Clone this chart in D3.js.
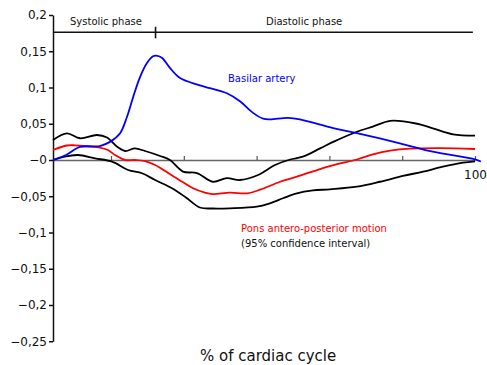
<!DOCTYPE html>
<html>
<head>
<meta charset="utf-8">
<script src="https://cdn.jsdelivr.net/npm/d3@7"></script>
<style>
  html, body { margin: 0; padding: 0; background: #fff; }
  svg { display: block; font-family: "DejaVu Sans", Verdana, sans-serif; }
</style>
</head>
<body>
<svg id="chart" width="487" height="365"></svg>
<script>
// Percent of cardiac cycle (x) and displacement / flow values (y)
const basilarX = [0, 3.1, 6.4, 11.1, 13.5, 15.9, 17.5, 19.0, 20.6, 22.3, 23.7, 24.4, 25.8, 27.7, 30.1, 34.8, 41.2, 44.3, 47.4, 49.8, 51.4, 55.7, 58.5, 66.4, 72.0, 82.2, 90.0, 100, 101.4];
const basilarY = [0, 0.0069, 0.018, 0.0193, 0.025, 0.037, 0.059, 0.087, 0.114, 0.134, 0.143, 0.144, 0.141, 0.127, 0.113, 0.103, 0.092, 0.081, 0.065, 0.057, 0.056, 0.058, 0.056, 0.044, 0.037, 0.023, 0.0114, 0.001, -0.002];

const ponsX = [0, 3.3, 5.2, 8.8, 11.1, 13.0, 14.7, 17.1, 19.4, 21.8, 24.2, 27.3, 30.6, 33.2, 36.0, 37.9, 41.9, 46.0, 49.1, 53.8, 57.8, 65.6, 72.0, 75.8, 79.9, 84.6, 91.7, 100];
const ponsY = [0.0138, 0.020, 0.0203, 0.0186, 0.0172, 0.0138, 0.0069, 0, 0, -0.0014, -0.0069, -0.018, -0.030, -0.039, -0.045, -0.047, -0.045, -0.046, -0.041, -0.030, -0.023, -0.0083, 0.0007, 0.0076, 0.0128, 0.0156, 0.0163, 0.0152];

const upperX = [0, 3.3, 6.4, 10.4, 12.8, 15.2, 17.1, 19.4, 21.8, 25.4, 27.7, 30.8, 34.1, 37.9, 41.2, 44.3, 48.6, 52.6, 56.2, 59.2, 63.3, 66.8, 72.0, 75.8, 79.9, 86.3, 90.0, 94.8, 100];
const upperY = [0.0276, 0.0368, 0.030, 0.0345, 0.031, 0.0183, 0.0124, 0.016, 0.0124, 0.0055, 0, -0.016, -0.018, -0.030, -0.025, -0.0276, -0.0207, -0.0069, 0.0007, 0.0046, 0.016, 0.026, 0.039, 0.046, 0.054, 0.050, 0.0437, 0.0354, 0.0335];

const lowerX = [0, 2.8, 5.9, 10.0, 14.0, 17.8, 21.1, 24.2, 28.2, 31.5, 34.8, 37.9, 41.9, 48.3, 51.4, 54.5, 57.8, 61.6, 65.6, 72.0, 77.5, 82.9, 87.7, 92.4, 97.2, 100];
const lowerY = [0, 0.0048, 0.0069, 0.0023, -0.0023, -0.0138, -0.0183, -0.0276, -0.039, -0.0517, -0.0655, -0.0669, -0.0666, -0.0644, -0.0597, -0.0528, -0.046, -0.042, -0.0404, -0.0368, -0.030, -0.022, -0.0161, -0.0092, -0.0037, -0.0018];

const yTickValues = [0.2, 0.15, 0.1, 0.05, 0, -0.05, -0.1, -0.15, -0.2, -0.25];
const yTickLabels = ["0,2", "0,15", "0,1", "0,05", "\u22120", "\u22120,05", "\u22120,1", "\u22120,15", "\u22120,2", "\u22120,25"];
const xTickValues = [13.75, 31, 48.25, 65.5, 82.75, 100];
const xTickLabels = ["", "", "", "", "", "100"];

const phaseBoundary = 24.3;
const phaseEnd = 99.5;

const svg = d3.select("#chart");

const x = d3.scaleLinear().domain([0, 100]).range([53, 475]);
const y = d3.scaleLinear().domain([-0.25, 0.2]).range([341.25, 15]);

// Y axis
const yAxis = svg.append("g")
  .attr("transform", `translate(${x(0)},0)`)
  .call(d3.axisLeft(y)
    .tickValues(yTickValues)
    .tickFormat((d, i) => yTickLabels[i])
    .tickSize(4)
    .tickSizeOuter(0)
    .tickPadding(2));
yAxis.select(".domain").attr("stroke", "#111").attr("stroke-width", 1.5);
yAxis.selectAll(".tick line").attr("stroke", "#111").attr("stroke-width", 1.5);
yAxis.selectAll("text").attr("font-size", 12).attr("fill", "#111")
  .attr("font-family", "DejaVu Sans, sans-serif");

// X axis along zero
const xAxis = svg.append("g")
  .attr("transform", `translate(0,${y(0)})`)
  .call(d3.axisBottom(x)
    .tickValues(xTickValues)
    .tickFormat((d, i) => xTickLabels[i])
    .tickSize(-4)
    .tickSizeOuter(0)
    .tickPadding(10));
xAxis.select(".domain").attr("stroke", "#666").attr("stroke-width", 1.5);
xAxis.selectAll(".tick line").attr("stroke", "#555").attr("stroke-width", 1.2);
xAxis.selectAll("text").attr("font-size", 12).attr("fill", "#111")
  .attr("font-family", "DejaVu Sans, sans-serif");

// Phase bar
const phaseY = 32.3;
svg.append("line")
  .attr("x1", x(0)).attr("x2", x(phaseEnd))
  .attr("y1", phaseY).attr("y2", phaseY)
  .attr("stroke", "#111").attr("stroke-width", 1.6);
svg.append("line")
  .attr("x1", x(phaseBoundary)).attr("x2", x(phaseBoundary))
  .attr("y1", phaseY - 5.5).attr("y2", phaseY + 6)
  .attr("stroke", "#111").attr("stroke-width", 1.6);
svg.append("text").attr("x", 70).attr("y", 25)
  .attr("font-size", 10).attr("fill", "#111").text("Systolic phase");
svg.append("text").attr("x", 266).attr("y", 25)
  .attr("font-size", 10).attr("fill", "#111").text("Diastolic phase");

// Curves
const line = d3.line()
  .x(d => x(d[0]))
  .y(d => y(d[1]))
  .curve(d3.curveCatmullRom.alpha(0.5));

const zip = (xs, ys) => xs.map((v, i) => [v, ys[i]]);

const series = [
  { pts: zip(upperX, upperY), color: "#000" },
  { pts: zip(lowerX, lowerY), color: "#000" },
  { pts: zip(ponsX, ponsY), color: "#ff0000" },
  { pts: zip(basilarX, basilarY), color: "#0000ff" }
];

svg.selectAll("path.curve")
  .data(series)
  .enter().append("path")
  .attr("class", "curve")
  .attr("d", d => line(d.pts))
  .attr("fill", "none")
  .attr("stroke", d => d.color)
  .attr("stroke-width", 1.8)
  .attr("stroke-linejoin", "round");

// Labels
svg.append("text").attr("x", 228).attr("y", 82)
  .attr("font-size", 10).attr("fill", "#0000ff").text("Basilar artery");
svg.append("text").attr("x", 241).attr("y", 232)
  .attr("font-size", 10).attr("fill", "#ff0000").text("Pons antero-posterior motion");
svg.append("text").attr("x", 241).attr("y", 247)
  .attr("font-size", 10).attr("fill", "#111").text("(95% confidence interval)");

svg.append("text").attr("x", 200).attr("y", 361)
  .attr("font-size", 15).attr("fill", "#111").text("% of cardiac cycle");
</script>
</body>
</html>
